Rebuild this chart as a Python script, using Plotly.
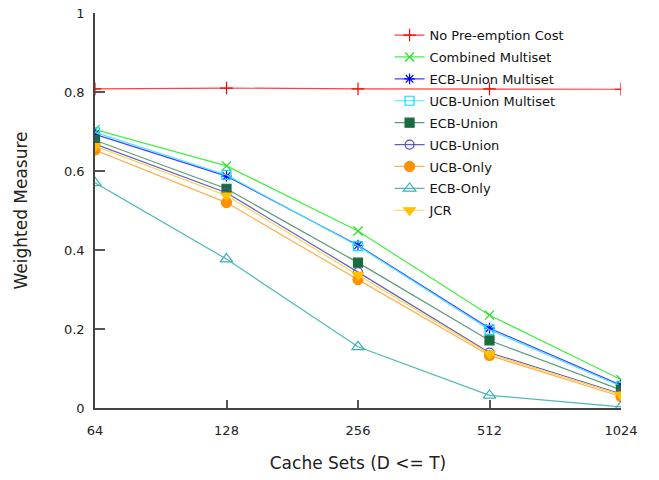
import plotly.graph_objects as go

cache_sets = [64, 128, 256, 512, 1024]
tick_labels = ["64", "128", "256", "512", "1024"]

no_preemption = [0.808, 0.810, 0.808, 0.808, 0.807]
combined_multiset = [0.705, 0.613, 0.448, 0.235, 0.072]
ecb_union_multiset = [0.693, 0.587, 0.412, 0.202, 0.058]
ucb_union_multiset = [0.698, 0.590, 0.410, 0.198, 0.055]
ecb_union = [0.678, 0.555, 0.368, 0.171, 0.046]
ucb_union = [0.668, 0.545, 0.344, 0.140, 0.036]
ucb_only = [0.653, 0.520, 0.325, 0.133, 0.029]
ecb_only = [0.570, 0.377, 0.155, 0.032, 0.003]
jcr = [0.663, 0.538, 0.337, 0.137, 0.033]

series = [
    ("No Pre-emption Cost", no_preemption, "#ff4040", "#ff0000", "cross-thin", 9, False),
    ("Combined Multiset", combined_multiset, "#40f040", "#20e020", "x-thin", 9, False),
    ("ECB-Union Multiset", ecb_union_multiset, "#4040ff", "#0000ff", "asterisk", 9, False),
    ("UCB-Union Multiset", ucb_union_multiset, "#40e8ff", "#00e0ff", "square-open", 9, False),
    ("ECB-Union", ecb_union, "#5a9a7a", "#1a6b40", "square", 9, True),
    ("UCB-Union", ucb_union, "#6060c0", "#5050b0", "circle-open", 9, False),
    ("UCB-Only", ucb_only, "#ffb050", "#ff9000", "circle", 10, True),
    ("ECB-Only", ecb_only, "#50b8b8", "#40b0b0", "triangle-up-open", 11, False),
    ("JCR", jcr, "#ffd050", "#ffc000", "triangle-down", 10, True),
]

fig = go.Figure()
for i, (name, vals, lcol, mcol, sym, size, filled) in enumerate(series):
    fig.add_trace(go.Scatter(
        x=cache_sets, y=vals, name=name, mode="lines+markers",
        legendgroup=f"g{i}",
        line=dict(color=lcol, width=1.2),
        marker=dict(symbol=sym, size=size, color=mcol,
                    line=dict(color=mcol, width=1.2)),
    ))

font_family = "DejaVu Sans, sans-serif"
fig.update_layout(
    width=659, height=480,
    margin=dict(l=95, r=38, t=13, b=72),
    paper_bgcolor="white", plot_bgcolor="white",
    font=dict(family=font_family, size=13, color="#222"),
    showlegend=True,
    legend=dict(x=0.56, y=0.982, xanchor="left", yanchor="top",
                bgcolor="rgba(0,0,0,0)", tracegroupgap=2,
                font=dict(size=13, color="#111")),
    xaxis=dict(
        type="log", range=[1.80618, 3.01030],
        tickvals=cache_sets, ticktext=tick_labels,
        ticks="inside", ticklen=8, tickcolor="#555", tickwidth=1.5,
        showline=True, linecolor="#444", linewidth=1.5,
        showgrid=False, zeroline=False, automargin=False,
        ticklabelstandoff=10,
        title=dict(text="Cache Sets (D <= T)", font=dict(size=17), standoff=20),
    ),
    yaxis=dict(
        range=[0, 1], tickvals=[0, 0.2, 0.4, 0.6, 0.8, 1],
        ticktext=["0", "0.2", "0.4", "0.6", "0.8", "1"],
        ticks="inside", ticklen=10, tickcolor="#555", tickwidth=1.5,
        showline=True, linecolor="#444", linewidth=1.5,
        showgrid=False, zeroline=False, automargin=False,
        ticklabelstandoff=6,
        title=dict(text="Weighted Measure", font=dict(size=17), standoff=32),
    ),
)

fig.write_html("out.html")
